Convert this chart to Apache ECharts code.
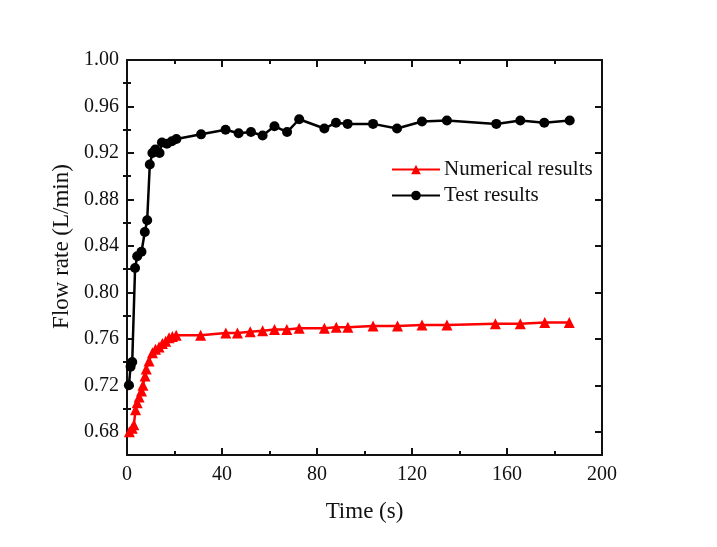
<!DOCTYPE html>
<html>
<head>
<meta charset="utf-8">
<script src="https://cdn.jsdelivr.net/npm/echarts@6/dist/echarts.min.js"></script>
<style>
  html, body { margin: 0; padding: 0; background: #fff; }
  #chart { width: 717px; height: 547px; }
</style>
</head>
<body>
<div id="chart"></div>
<script>
// values
const testTime = [0.8, 1.5, 2.2, 3.4, 4.3, 6.1, 7.5, 8.5, 9.6, 10.7, 11.9, 13.7, 14.7, 16.8, 18.9, 20.8,
  31.2, 41.5, 47.0, 52.2, 57.1, 62.1, 67.4, 72.5, 83.1, 88.0, 92.9, 103.6, 113.7, 124.2, 134.7,
  155.5, 165.6, 175.7, 186.4];
const testFlow = [0.720, 0.736, 0.740, 0.821, 0.831, 0.835, 0.852, 0.862, 0.910, 0.920, 0.923, 0.920, 0.929, 0.928, 0.930, 0.932,
  0.936, 0.940, 0.937, 0.938, 0.935, 0.943, 0.938, 0.949, 0.941, 0.946, 0.945, 0.945, 0.941, 0.947, 0.948,
  0.945, 0.948, 0.946, 0.948];

const numTime = [1.0, 2.2, 2.9, 3.6, 4.3, 5.1, 6.1, 6.7, 7.6, 8.1, 9.3, 10.7, 12.0, 13.5, 14.9, 16.3, 17.7, 19.1, 20.7,
  31.0, 41.6, 46.5, 51.9, 57.1, 62.1, 67.3, 72.5, 83.1, 88.1, 93.0, 103.6, 113.9, 124.2, 134.7, 155.1, 165.6, 175.9, 186.2];
const numFlow = [0.680, 0.683, 0.686, 0.699, 0.705, 0.710, 0.715, 0.720, 0.728, 0.734, 0.741, 0.748, 0.751, 0.753, 0.756, 0.758, 0.761, 0.762, 0.763,
  0.763, 0.765, 0.765, 0.766, 0.767, 0.768, 0.768, 0.769, 0.769, 0.770, 0.770, 0.771, 0.771, 0.772, 0.772, 0.773, 0.773, 0.774, 0.774];

const xMajor = [0, 40, 80, 120, 160, 200];
const xMinor = [20, 60, 100, 140, 180];
const yMajor = [0.68, 0.72, 0.76, 0.80, 0.84, 0.88, 0.92, 0.96, 1.00];
const yMinor = [0.70, 0.74, 0.78, 0.82, 0.86, 0.90, 0.94, 0.98];

const font = 'Liberation Serif';
const ink = '#111';

const chart = echarts.init(document.getElementById('chart'), null, { renderer: 'canvas' });

const pair = (arrX, arrY) => arrX.map((x, i) => [x, arrY[i]]);

// axis helpers: one axis carries line + labels + long ticks, a twin carries the short ticks
const xAxisSet = (position, labels) => [
  {
    type: 'value', position, min: 0, max: 200,
    axisLine: { show: true, onZero: false, lineStyle: { color: ink, width: 2 } },
    axisTick: { show: true, inside: true, length: 7, customValues: xMajor, lineStyle: { color: ink, width: 2 } },
    axisLabel: { show: labels, customValues: xMajor, color: ink, fontFamily: font, fontSize: 20, margin: 10 },
    splitLine: { show: false },
    name: labels ? 'Time (s)' : '',
    nameLocation: 'middle', nameGap: 45,
    nameTextStyle: { color: ink, fontFamily: font, fontSize: 23 }
  },
  {
    type: 'value', position, min: 0, max: 200,
    axisLine: { show: false },
    axisTick: { show: true, inside: true, length: 4, customValues: xMinor, lineStyle: { color: ink, width: 2 } },
    axisLabel: { show: false },
    splitLine: { show: false }
  }
];

const yAxisSet = (position, labels) => [
  {
    type: 'value', position, min: 0.66, max: 1.0,
    axisLine: { show: true, onZero: false, lineStyle: { color: ink, width: 2 } },
    axisTick: { show: true, inside: true, length: 7, customValues: yMajor, lineStyle: { color: ink, width: 2 } },
    axisLabel: {
      show: labels, customValues: yMajor, color: ink, fontFamily: font, fontSize: 20, margin: 8,
      formatter: (v) => v.toFixed(2)
    },
    splitLine: { show: false },
    name: labels ? 'Flow rate (L/min)' : '',
    nameLocation: 'middle', nameGap: 41,
    nameTextStyle: { color: ink, fontFamily: font, fontSize: 23, padding: [0, 0, 0, 22] }
  },
  {
    type: 'value', position, min: 0.66, max: 1.0,
    axisLine: { show: false },
    axisTick: { show: true, inside: true, length: 4, customValues: yMinor, lineStyle: { color: ink, width: 2 } },
    axisLabel: { show: false },
    splitLine: { show: false }
  }
];

const option = {
  backgroundColor: '#fff',
  animation: false,
  grid: { left: 127, right: 115, top: 60, bottom: 92 },
  xAxis: [...xAxisSet('bottom', true), ...xAxisSet('top', false)],
  yAxis: [...yAxisSet('left', true), ...yAxisSet('right', false)],
  legend: {
    orient: 'vertical',
    left: 386,
    top: 154,
    itemWidth: 48,
    itemHeight: 12,
    itemGap: 5,
    textStyle: { color: ink, fontFamily: font, fontSize: 21, padding: [0, 0, 0, -1] },
    data: ['Numerical results', 'Test results']
  },
  series: [
    {
      name: 'Numerical results',
      type: 'line',
      xAxisIndex: 0, yAxisIndex: 0,
      data: pair(numTime, numFlow),
      symbol: 'triangle',
      symbolSize: 11,
      itemStyle: { color: '#ff0000' },
      lineStyle: { color: '#ff0000', width: 2.5 }
    },
    {
      name: 'Test results',
      type: 'line',
      xAxisIndex: 0, yAxisIndex: 0,
      data: pair(testTime, testFlow),
      symbol: 'circle',
      symbolSize: 10,
      itemStyle: { color: '#000' },
      lineStyle: { color: '#000', width: 2.5 }
    }
  ]
};

chart.setOption(option);
</script>
</body>
</html>
